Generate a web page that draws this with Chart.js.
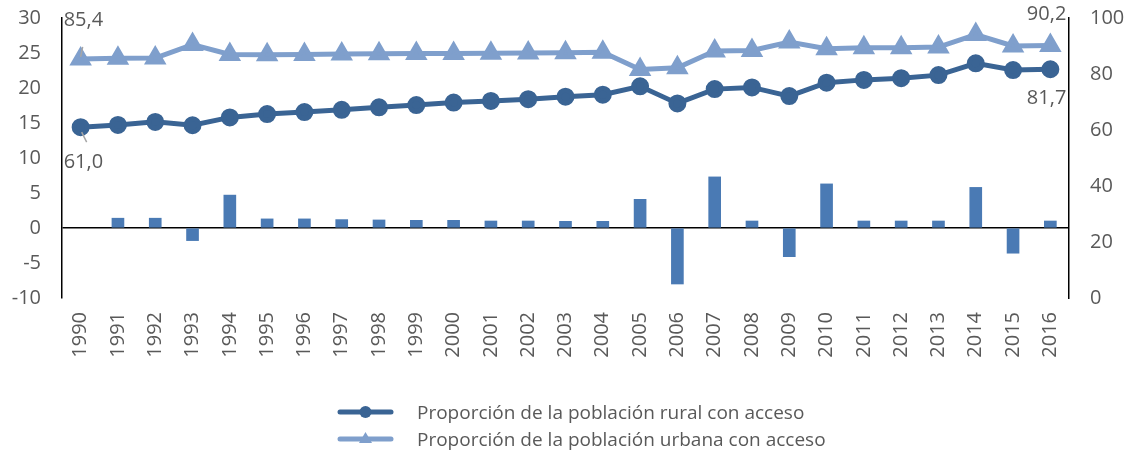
<!DOCTYPE html>
<html lang="es">
<head>
    <meta charset="UTF-8">
    <title>Acceso de la población rural y urbana</title>
    <script src="https://cdn.jsdelivr.net/npm/chart.js"></script>
    <style>
        body {
            margin: 0;
            padding: 0;
            background-color: #fff;
            font-family: "Open Sans", Arial, sans-serif;
        }
        .wrap {
            position: relative;
            width: 1131px;
            height: 455px;
        }
        .legend {
            position: absolute;
            left: 337px;
            top: 398px;
            color: #595959;
            font-size: 19px;
        }
        .legend-row {
            display: flex;
            align-items: center;
            height: 27px;
        }
        .legend-row canvas {
            margin-right: 23px;
        }
    </style>
</head>
<body>
    <div class="wrap">
        <canvas id="accessChart" width="1131" height="455"></canvas>
        <div class="legend" id="legend"></div>
    </div>

    <script>
        const years = ['1990', '1991', '1992', '1993', '1994', '1995', '1996', '1997', '1998',
            '1999', '2000', '2001', '2002', '2003', '2004', '2005', '2006', '2007', '2008',
            '2009', '2010', '2011', '2012', '2013', '2014', '2015', '2016'];

        // annual variation (left axis)
        const variation = [null, 1.4, 1.4, -1.8, 4.7, 1.3, 1.3, 1.2, 1.15,
            1.1, 1.1, 1.0, 1.0, 0.95, 0.95, 4.1, -8.0, 7.3, 1.0,
            -4.1, 6.3, 1.0, 1.0, 1.0, 5.8, -3.6, 1.0];

        // share of population with access (right axis)
        const rural = [61.0, 61.8, 62.9, 61.7, 64.5, 65.7, 66.4, 67.2, 68.1,
            68.9, 69.8, 70.4, 71.0, 71.9, 72.6, 75.6, 69.5, 74.6, 75.2,
            72.1, 76.9, 77.9, 78.5, 79.6, 83.8, 81.4, 81.7];
        const urban = [85.4, 85.6, 85.7, 90.5, 87.0, 86.9, 87.0, 87.1, 87.2,
            87.3, 87.3, 87.4, 87.5, 87.6, 87.8, 81.6, 82.2, 88.2, 88.4,
            91.4, 89.0, 89.4, 89.4, 89.6, 94.1, 90.0, 90.2];

        const ruralLabel = 'Proporción de la población rural con acceso';
        const urbanLabel = 'Proporción de la población urbana con acceso';

        const colorBar = '#4a7ab4';
        const colorRural = '#3a6494';
        const colorUrban = '#7f9fcc';
        const textColor = '#595959';
        const fontFamily = '"Open Sans", Arial, sans-serif';

        // value labels on first and last points of each line
        const pointLabels = [
            { dataset: 1, index: 0, dx: -17, dy: 35, align: 'left', leader: [[1, 5], [6, 15]] },
            { dataset: 2, index: 0, dx: -17, dy: -39, align: 'left', leader: [[2, -12], [0, -2]] },
            { dataset: 1, index: years.length - 1, dx: 16, dy: 29, align: 'right' },
            { dataset: 2, index: years.length - 1, dx: 16, dy: -31, align: 'right' }
        ];

        const valueLabelPlugin = {
            id: 'valueLabels',
            afterDatasetsDraw(chart) {
                const ctx = chart.ctx;
                ctx.save();
                ctx.font = '20px ' + fontFamily;
                ctx.fillStyle = textColor;
                ctx.textBaseline = 'middle';
                pointLabels.forEach(l => {
                    const ds = chart.data.datasets[l.dataset];
                    const pt = chart.getDatasetMeta(l.dataset).data[l.index];
                    const value = ds.data[l.index];
                    if (l.leader) {
                        ctx.strokeStyle = '#a6a6a6';
                        ctx.lineWidth = 1.5;
                        ctx.beginPath();
                        ctx.moveTo(pt.x + l.leader[0][0], pt.y + l.leader[0][1]);
                        ctx.lineTo(pt.x + l.leader[1][0], pt.y + l.leader[1][1]);
                        ctx.stroke();
                    }
                    ctx.textAlign = l.align;
                    ctx.fillText(value.toFixed(1).replace('.', ','), pt.x + l.dx, pt.y + l.dy);
                });
                ctx.restore();
            }
        };

        // keep the vertical axes from pushing the plot area down
        function fixVertical(width) {
            return s => {
                s.width = width;
                s.paddingTop = 0;
                s.paddingBottom = 0;
            };
        }

        const ctxAccess = document.getElementById('accessChart').getContext('2d');
        const accessChart = new Chart(ctxAccess, {
            type: 'bar',
            data: {
                labels: years,
                datasets: [{
                    type: 'bar',
                    label: 'Variación anual',
                    data: variation,
                    backgroundColor: colorBar,
                    barThickness: 12,
                    yAxisID: 'y',
                    order: 3
                }, {
                    type: 'line',
                    label: ruralLabel,
                    data: rural,
                    borderColor: colorRural,
                    backgroundColor: colorRural,
                    borderWidth: 5,
                    pointStyle: 'circle',
                    pointRadius: 6.5,
                    pointHoverRadius: 6.5,
                    tension: 0,
                    yAxisID: 'y1',
                    order: 1
                }, {
                    type: 'line',
                    label: urbanLabel,
                    data: urban,
                    borderColor: colorUrban,
                    backgroundColor: colorUrban,
                    borderWidth: 5,
                    pointStyle: 'triangle',
                    pointRadius: 8,
                    pointHoverRadius: 8,
                    tension: 0,
                    yAxisID: 'y1',
                    order: 2
                }]
            },
            options: {
                responsive: false,
                animation: false,
                layout: { padding: { top: 18, left: 0, right: 0, bottom: 0 } },
                plugins: {
                    legend: { display: false },
                    tooltip: { enabled: false }
                },
                scales: {
                    x: {
                        offset: true,
                        grid: { display: false, drawTicks: false },
                        border: { display: false },
                        ticks: {
                            color: textColor,
                            font: { family: fontFamily, size: 20 },
                            minRotation: 90,
                            maxRotation: 90,
                            padding: 14,
                            autoSkip: false
                        },
                        afterFit: s => { s.height = 455 - 298; }
                    },
                    y: {
                        position: 'left',
                        min: -10,
                        max: 30,
                        ticks: {
                            stepSize: 5,
                            color: textColor,
                            font: { family: fontFamily, size: 20 },
                            padding: 21
                        },
                        grid: {
                            drawTicks: false,
                            lineWidth: 1.5,
                            color: c => c.tick.value === 0 ? '#000' : 'transparent'
                        },
                        border: { display: true, color: '#000', width: 1.5 },
                        afterFit: fixVertical(62)
                    },
                    y1: {
                        position: 'right',
                        min: 0,
                        max: 100,
                        ticks: {
                            stepSize: 20,
                            color: textColor,
                            font: { family: fontFamily, size: 20 },
                            padding: 21
                        },
                        grid: { display: false, drawTicks: false },
                        border: { display: true, color: '#000', width: 1.5 },
                        afterFit: fixVertical(1131 - 1069)
                    }
                }
            },
            plugins: [valueLabelPlugin]
        });

        // legend: line sample with marker, then the series name
        function buildLegend() {
            const legend = document.getElementById('legend');
            [1, 2].forEach(i => {
                const ds = accessChart.data.datasets[i];
                const row = document.createElement('div');
                row.className = 'legend-row';
                const sample = document.createElement('canvas');
                sample.width = 57;
                sample.height = 20;
                const c = sample.getContext('2d');
                c.strokeStyle = ds.borderColor;
                c.fillStyle = ds.borderColor;
                c.lineWidth = 5;
                c.lineCap = 'round';
                c.beginPath();
                c.moveTo(3, 10);
                c.lineTo(54, 10);
                c.stroke();
                c.beginPath();
                if (ds.pointStyle === 'circle') {
                    c.arc(28.5, 10, 6, 0, Math.PI * 2);
                } else {
                    c.moveTo(28.5, 3);
                    c.lineTo(35, 14);
                    c.lineTo(22, 14);
                    c.closePath();
                }
                c.fill();
                row.appendChild(sample);
                const text = document.createElement('span');
                text.textContent = ds.label;
                row.appendChild(text);
                legend.appendChild(row);
            });
        }
        buildLegend();
    </script>
</body>
</html>
